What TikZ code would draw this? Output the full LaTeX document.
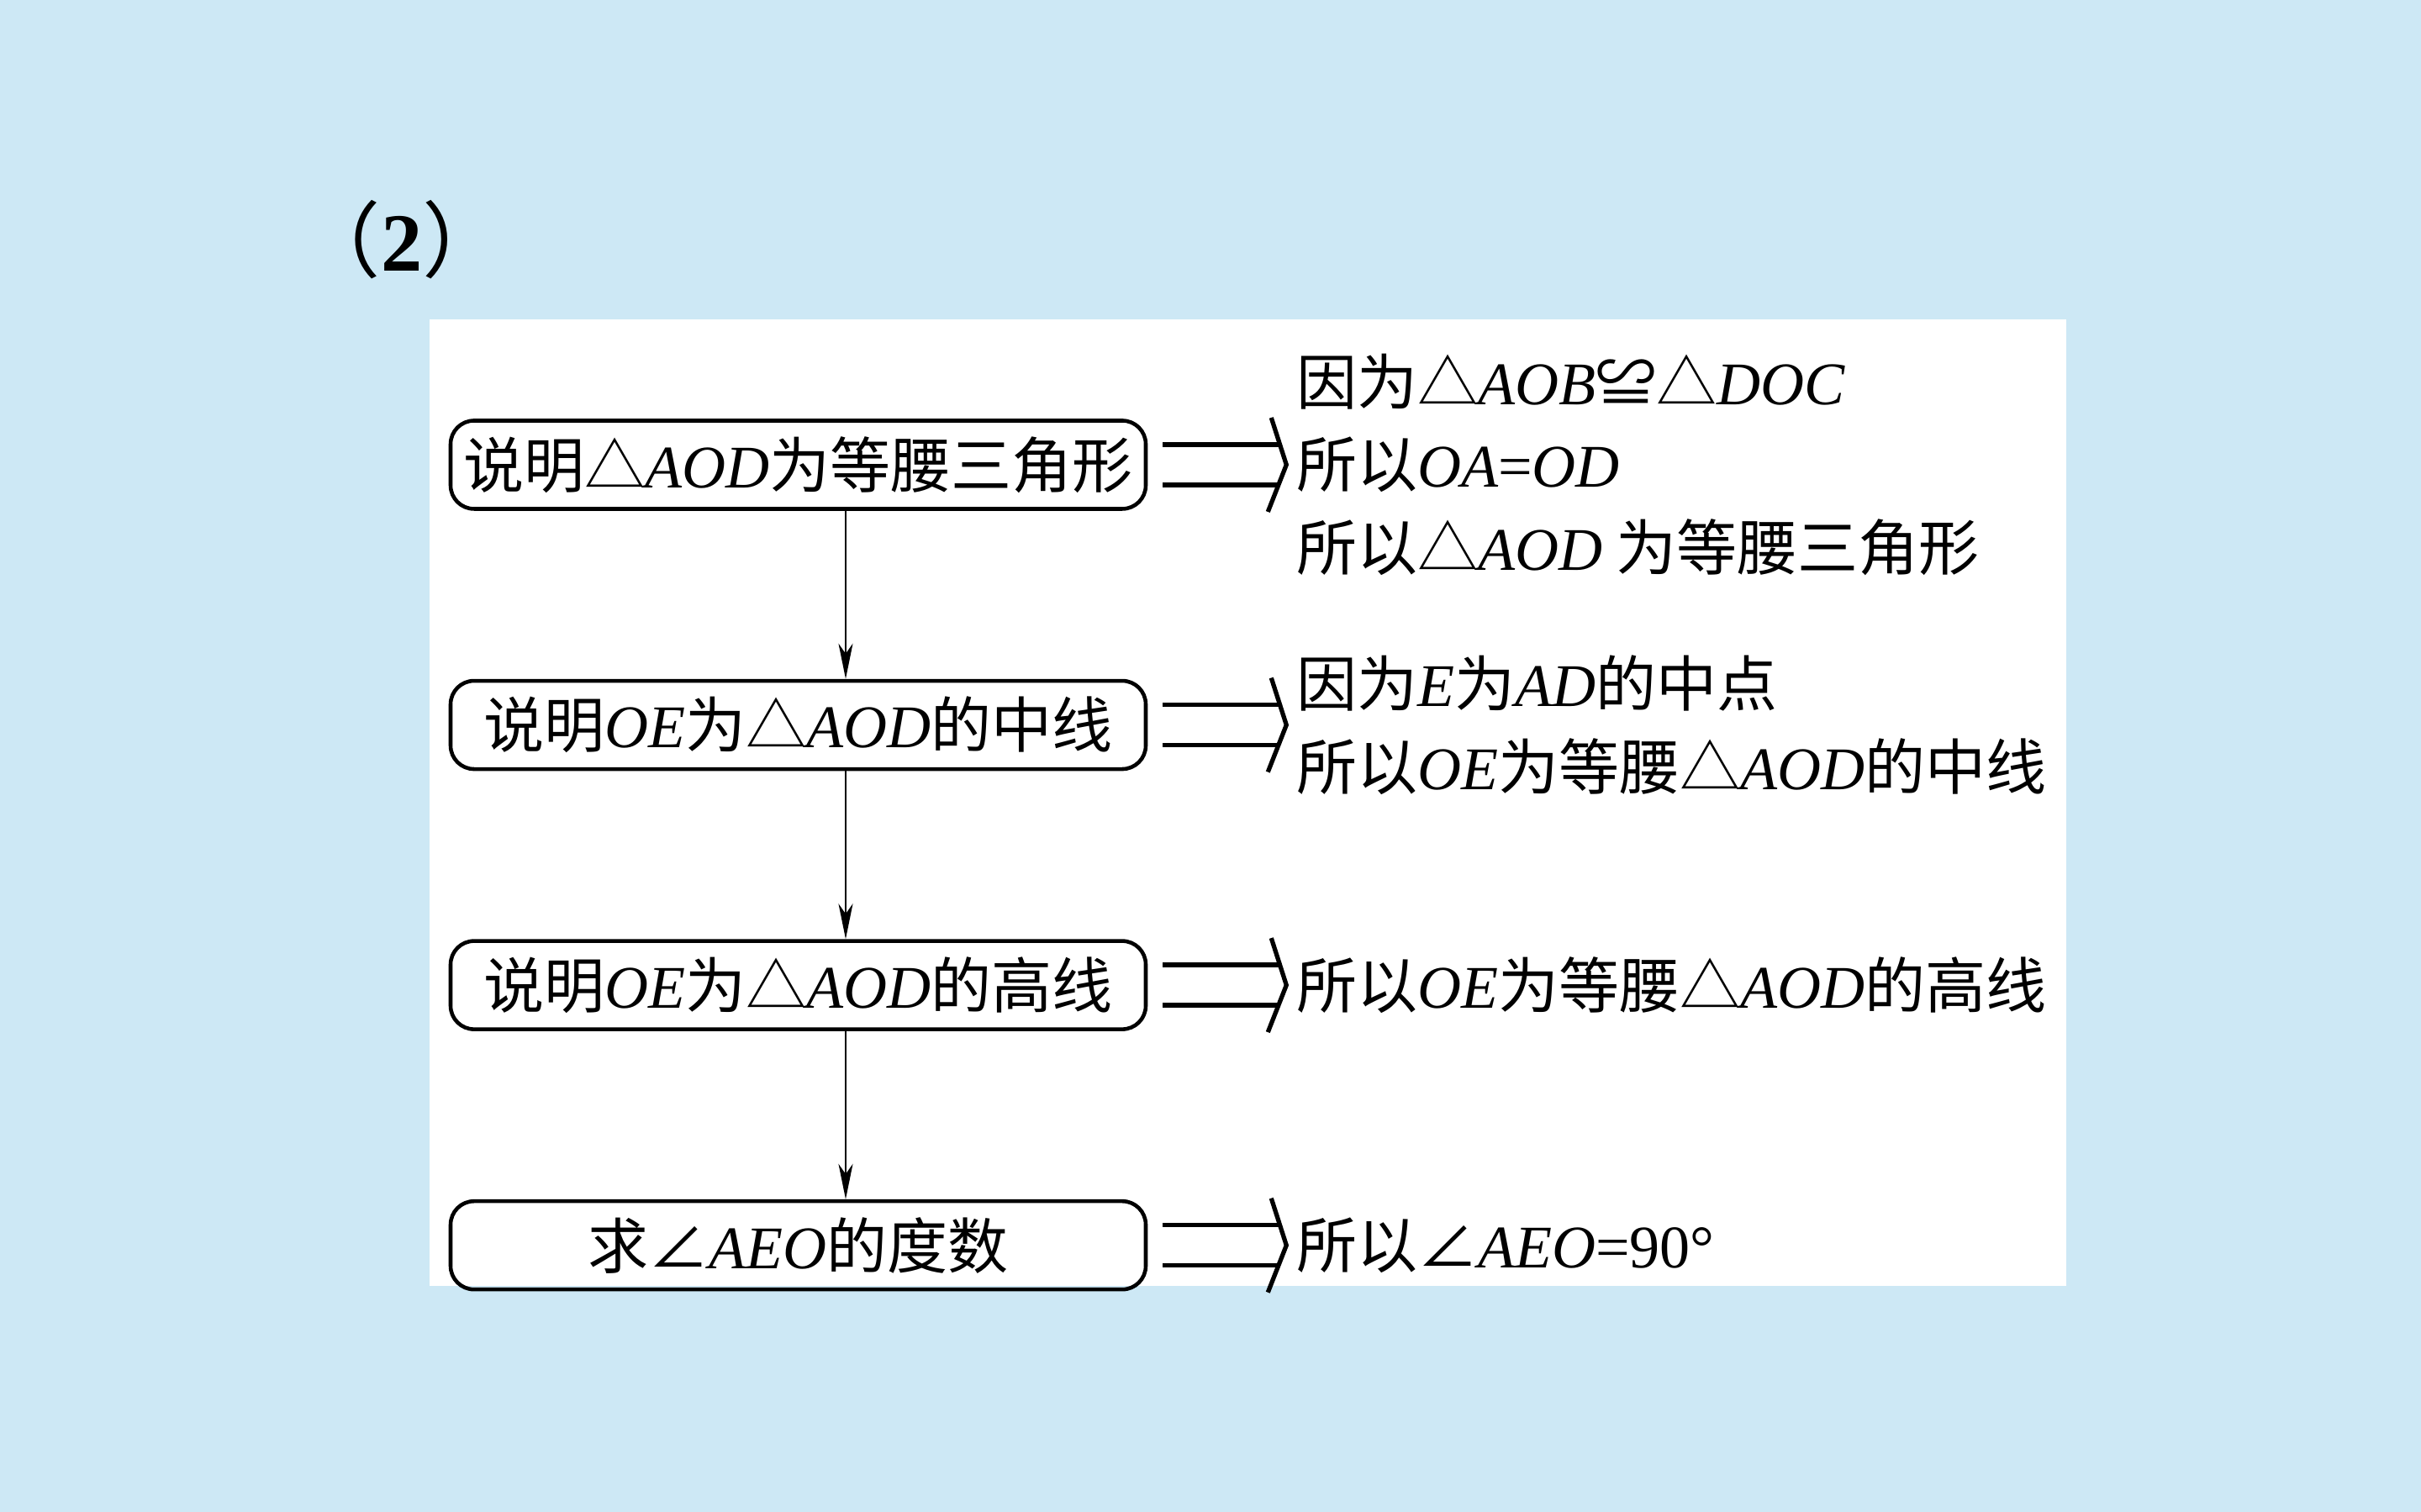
\documentclass[tikz,border=0pt]{standalone}
\usepackage{fontspec}
\setmainfont{Liberation Serif}
\newfontfamily\cjk{Noto Sans CJK SC}
\usetikzlibrary{arrows.meta,calc,positioning}

\definecolor{bgblue}{RGB}{205,232,245}
\newcommand{\mi}[1]{{\normalfont\itshape #1}}
\newcommand{\trian}{{\cjk △}}
\newcommand{\angl}{{\cjk ∠}}
\newcommand{\bodyfont}{\cjk\fontsize{20.5}{28}\selectfont}
\newcommand{\dblarrow}[2]{%
  \draw[dbl] ($(#1.east)+(0.18,0.24)$) -- ($(#2.west)+(-0.19,0.24)$);
  \draw[dbl] ($(#1.east)+(0.18,-0.24)$) -- ($(#2.west)+(-0.19,-0.24)$);
  \draw[dbl] ($(#2.west)+(-0.29,0.56)$) -- ($(#2.west)+(-0.11,0)$) -- ($(#2.west)+(-0.33,-0.56)$);}

\begin{document}
\begin{tikzpicture}[
  stepbox/.style={draw, line width=1.3pt, rounded corners=0.28cm, minimum width=8.27cm, minimum height=1.05cm, font=\bodyfont},
  reason/.style={anchor=west, inner sep=0pt, align=left, font=\bodyfont},
  down/.style={line width=0.8pt, -{Stealth[length=0.42cm, width=0.17cm, inset=0.12cm]}},
  dbl/.style={line width=1.5pt}
]

	% page and white panel
	\fill[bgblue] (0,0) rectangle (28.8,17.99);
	\fill[white] (5.11,2.69) rectangle (24.58,14.19);

	\node (num) at (4.78,15.14) {\fontsize{28}{32}\selectfont{\cjk （}\textbf{2}{\cjk ）}};

	% the four steps
	\node[stepbox] (b1) at (9.495,12.46) {说明\trian\mi{AOD}为等腰三角形};
	\node[stepbox, below=2cm of b1] (b2) {说明\mi{OE}为\trian\mi{AOD}的中线};
	\node[stepbox, below=2cm of b2] (b3) {说明\mi{OE}为\trian\mi{AOD}的高线};
	\node[stepbox, below=2cm of b3] (b4) {求\angl\mi{AEO}的度数};

	\coordinate (ax) at (10.06,0);
	\draw[down] (b1.south -| ax) -- (b2.north -| ax);
	\draw[down] (b2.south -| ax) -- (b3.north -| ax);
	\draw[down] (b3.south -| ax) -- (b4.north -| ax);

	% reasons on the right
	\node[reason, right=1.76cm of b1] (r1) {因为\trian\mi{AOB}{\cjk ≌}\trian\mi{DOC}\\所以\mi{OA}{\normalfont =}\mi{OD}\\所以\trian\mi{AOD} 为等腰三角形};
	\node[reason, right=1.76cm of b2] (r2) {因为\mi{E}为\mi{AD}的中点\\所以\mi{OE}为等腰\trian\mi{AOD}的中线};
	\node[reason, right=1.76cm of b3] (r3) {所以\mi{OE}为等腰\trian\mi{AOD}的高线};
	\node[reason, right=1.76cm of b4] (r4) {所以\angl\mi{AEO}{\normalfont =90°}};

	\dblarrow{b1}{r1}
	\dblarrow{b2}{r2}
	\dblarrow{b3}{r3}
	\dblarrow{b4}{r4}
\end{tikzpicture}
\end{document}
